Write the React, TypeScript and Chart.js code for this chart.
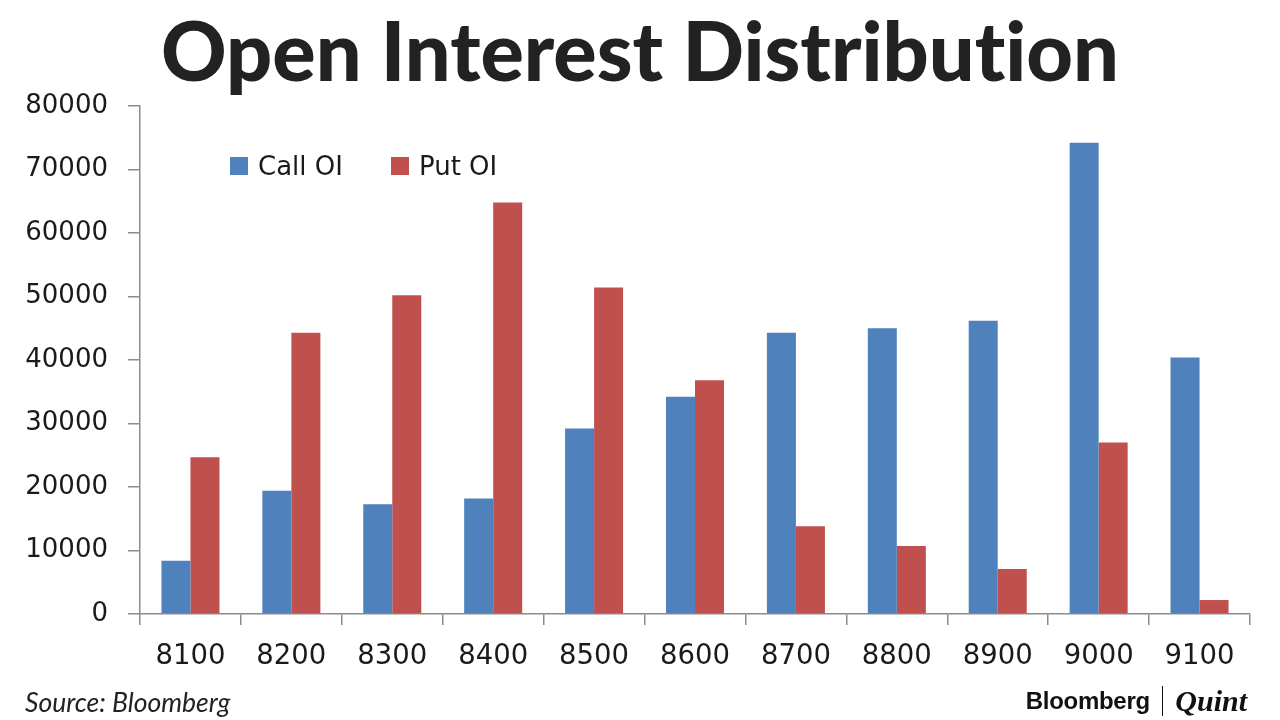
import React, { useEffect, useRef } from 'react';
import Chart from 'chart.js/auto';

// strike prices and open interest
const strikes = ['8100', '8200', '8300', '8400', '8500', '8600', '8700', '8800', '8900', '9000', '9100'];
const callOI = [8400, 19400, 17300, 18200, 29200, 34200, 44300, 45000, 46200, 74200, 40400];
const putOI = [24700, 44300, 50200, 64800, 51400, 36800, 13800, 10700, 7100, 27000, 2200];
const seriesNames = ['Call OI', 'Put OI'];
const seriesColors = ['#4F81BD', '#C0504D'];

const axisGray = '#8c8c8c';

export default function App() {
  const chartRef = useRef<HTMLCanvasElement | null>(null);

  useEffect(() => {
    document.body.style.margin = '0';
    if (!chartRef.current) return;

    const chart = new Chart(chartRef.current, {
      type: 'bar',
      data: {
        labels: strikes,
        datasets: [
          { label: seriesNames[0], data: callOI, backgroundColor: seriesColors[0] },
          { label: seriesNames[1], data: putOI, backgroundColor: seriesColors[1] },
        ],
      },
      options: {
        responsive: false,
        animation: false,
        layout: { padding: { top: 106, right: 30, left: 0, bottom: 0 } },
        datasets: { bar: { categoryPercentage: 0.575, barPercentage: 1 } },
        plugins: {
          legend: { display: false },
          tooltip: { enabled: false },
        },
        scales: {
          x: {
            afterFit: (scale: any) => { scale.height = 106; },
            grid: { drawOnChartArea: false, color: axisGray, tickLength: 11, lineWidth: 1.5 },
            border: { color: axisGray, width: 1.5 },
            ticks: { color: '#1a1a1a', font: { family: 'DejaVu Sans', size: 27.5 }, padding: 15 },
          },
          y: {
            min: 0,
            max: 80000,
            afterFit: (scale: any) => { scale.width = 140; },
            grid: { drawOnChartArea: false, color: axisGray, tickLength: 12, lineWidth: 1.5 },
            border: { color: axisGray, width: 1.5 },
            ticks: {
              stepSize: 10000,
              color: '#1a1a1a',
              font: { family: 'DejaVu Sans', size: 26 },
              padding: 20,
              callback: (v: any) => String(v),
            },
          },
        },
      },
    });
    return () => chart.destroy();
  }, []);

  return (
    <div style={{ position: 'relative', width: 1280, height: 720, background: '#fff', overflow: 'hidden' }}>
      <canvas ref={chartRef} width={1280} height={720} style={{ position: 'absolute', left: 0, top: 0 }} />
      <div style={{
        position: 'absolute', top: 2, left: 0, width: 1280, textAlign: 'center',
        fontFamily: 'Lato', fontWeight: 900, fontSize: 81, lineHeight: '96px', color: '#222',
        fontVariantLigatures: 'none',
      }}>
        Open Interest Distribution
      </div>
      <div style={{ position: 'absolute', top: 151, left: 230, display: 'flex', alignItems: 'center',
        fontFamily: 'DejaVu Sans', fontSize: 26, color: '#1a1a1a' }}>
        {seriesNames.map((name, i) => (
          <div key={name} style={{ display: 'flex', alignItems: 'center', marginRight: 48 }}>
            <span style={{ width: 18, height: 18, background: seriesColors[i], marginRight: 10 }} />
            {name}
          </div>
        ))}
      </div>
      <div style={{ position: 'absolute', left: 25, top: 686, fontFamily: 'Lato', fontStyle: 'italic',
        fontSize: 26.5, color: '#222' }}>
        Source: Bloomberg
      </div>
      <div style={{ position: 'absolute', right: 33, top: 684, display: 'flex', alignItems: 'center' }}>
        <span style={{ fontFamily: 'Liberation Sans', fontWeight: 900, fontSize: 24, letterSpacing: -0.3, color: '#111' }}>
          Bloomberg
        </span>
        <span style={{ width: 1.5, height: 30, background: '#111', margin: '0 12px' }} />
        <span style={{ fontFamily: 'Liberation Serif', fontWeight: 700, fontStyle: 'italic', fontSize: 30, color: '#111' }}>
          Quint
        </span>
      </div>
    </div>
  );
}
